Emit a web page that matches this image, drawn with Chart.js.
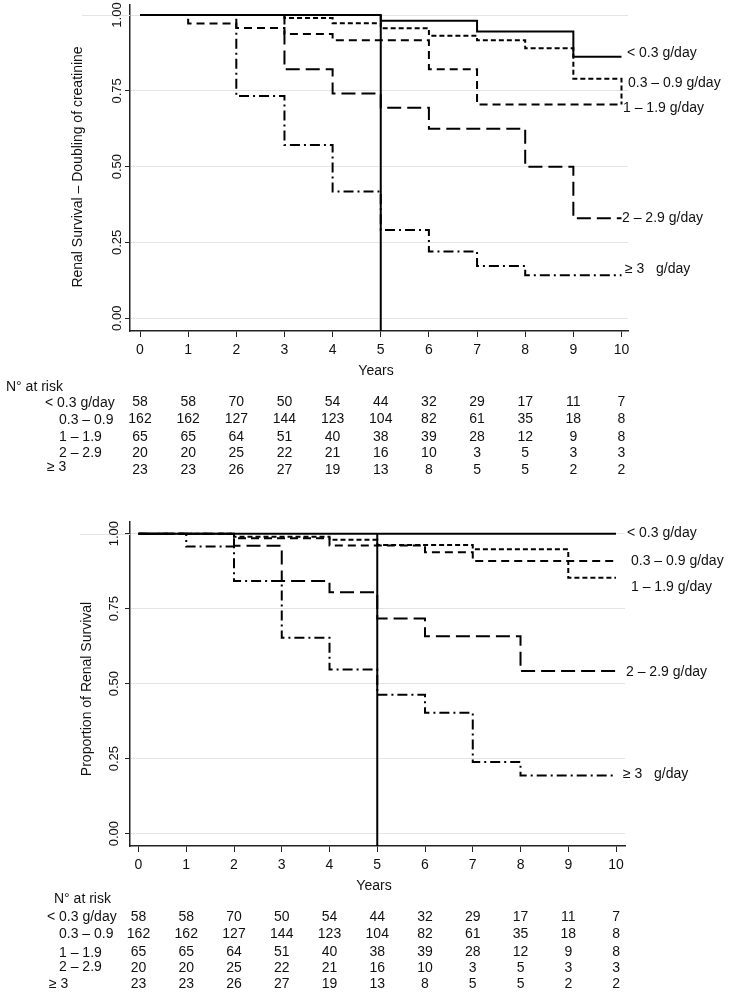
<!DOCTYPE html>
<html>
<head>
<meta charset="utf-8">
<script src="https://cdn.jsdelivr.net/npm/chart.js@4"></script>
<style>
    html, body { margin: 0; padding: 0; background: #fff; }
    body { width: 733px; height: 993px; position: relative; overflow: hidden; }
    canvas { position: absolute; left: 0; }
    #top-chart { top: 0; }
    #bottom-chart { top: 480px; }
</style>
</head>
<body>
<canvas id="top-chart" width="733" height="480"></canvas>
<canvas id="bottom-chart" width="733" height="513"></canvas>
<script>
// Shared axes / labels
const years = [0, 1, 2, 3, 4, 5, 6, 7, 8, 9, 10];
const yTicks = [0, 0.25, 0.5, 0.75, 1];
const groupLabels = ['< 0.3 g/day', '0.3 \u2013 0.9 g/day', '1 \u2013 1.9 g/day', '2 \u2013 2.9 g/day', '\u2265 3   g/day'];
const riskLabels = ['< 0.3 g/day', '0.3 \u2013 0.9', '1 \u2013 1.9', '2 \u2013 2.9', '\u2265 3'];
const cutoffYear = 5;

// Top: renal survival - doubling of creatinine (level from each year on)
const dblLt03 = [1, 1, 1, 1, 1, 0.981, 0.981, 0.946, 0.946, 0.862, 0.862];
const dbl03to09 = [1, 1, 1, 0.99, 0.973, 0.956, 0.932, 0.917, 0.89, 0.79, 0.705];
const dbl1to19 = [1, 0.972, 0.957, 0.937, 0.917, 0.917, 0.821, 0.705, 0.705, 0.705, 0.705];
const dbl2to29 = [1, 1, 1, 0.821, 0.741, 0.694, 0.625, 0.625, 0.5, 0.33, 0.33];
const dblGe3 = [1, 1, 0.733, 0.571, 0.418, 0.291, 0.22, 0.172, 0.142, 0.142, 0.142];

// Bottom: proportion of renal survival
const survLt03 = [1, 1, 1, 1, 1, 1, 1, 1, 1, 1, 1];
const surv03to09 = [1, 1, 0.99, 0.99, 0.98, 0.962, 0.962, 0.948, 0.948, 0.853, 0.853];
const surv1to19 = [1, 1, 0.985, 0.985, 0.961, 0.961, 0.938, 0.909, 0.909, 0.909, 0.909];
const surv2to29 = [1, 1, 0.96, 0.842, 0.805, 0.717, 0.658, 0.658, 0.542, 0.542, 0.542];
const survGe3 = [1, 0.957, 0.842, 0.653, 0.547, 0.463, 0.403, 0.239, 0.194, 0.194, 0.194];

// Number at risk (same table under both plots)
const riskLt03 = [58, 58, 70, 50, 54, 44, 32, 29, 17, 11, 7];
const risk03to09 = [162, 162, 127, 144, 123, 104, 82, 61, 35, 18, 8];
const risk1to19 = [65, 65, 64, 51, 40, 38, 39, 28, 12, 9, 8];
const risk2to29 = [20, 20, 25, 22, 21, 16, 10, 3, 5, 3, 3];
const riskGe3 = [23, 23, 26, 27, 19, 13, 8, 5, 5, 2, 2];

const riskRows = [riskLt03, risk03to09, risk1to19, risk2to29, riskGe3];
const dashes = [[], [5, 3], [8, 5], [14, 6], [10, 4, 2, 4]];
const FONT = '"Liberation Sans", Arial, Helvetica, sans-serif';
const INK = '#111';

// Text drawn around the plot: rotated y labels, group labels, risk table
const kmText = {
    id: 'kmText',
    beforeDatasetsDraw(chart, args, o) {
        const { ctx } = chart;
        const y = chart.scales.y;
        // the 1.00 grid line reaches past the axis in the original
        ctx.save();
        ctx.strokeStyle = '#e4e4e4';
        ctx.lineWidth = 1;
        ctx.beginPath();
        ctx.moveTo(o.gridLeft, Math.round(y.getPixelForValue(1)) + 0.5);
        ctx.lineTo(chart.chartArea.left, Math.round(y.getPixelForValue(1)) + 0.5);
        ctx.stroke();
        ctx.restore();
    },
    afterDraw(chart, args, o) {
        const { ctx } = chart;
        const x = chart.scales.x;
        const y = chart.scales.y;
        ctx.save();
        ctx.fillStyle = INK;
        ctx.textBaseline = 'middle';

        // y tick labels, rotated
        ctx.font = '13px ' + FONT;
        ctx.textAlign = 'center';
        yTicks.forEach(v => {
            ctx.save();
            ctx.translate(o.yLabelX, y.getPixelForValue(v));
            ctx.rotate(-Math.PI / 2);
            ctx.fillText(v.toFixed(2), 0, 0);
            ctx.restore();
        });

        // y title
        ctx.font = '14px ' + FONT;
        ctx.save();
        ctx.translate(o.yTitle.x, o.yTitle.y);
        ctx.rotate(-Math.PI / 2);
        ctx.fillText(o.yTitle.text, 0, 0);
        ctx.restore();

        // x title
        ctx.fillText('Years', o.xTitle.x, o.xTitle.y);

        // group labels at the right end of the curves
        ctx.textAlign = 'left';
        groupLabels.forEach((label, i) => {
            ctx.fillText(label, o.endLabels[i].x, o.endLabels[i].y);
        });

        // number at risk table
        ctx.fillText('N\u00b0 at risk', o.atRisk.x, o.atRisk.y);
        riskLabels.forEach((label, i) => {
            ctx.textAlign = 'left';
            ctx.fillText(label, o.rowLabelX[i], o.rowLabelY[i]);
            ctx.textAlign = 'center';
            riskRows[i].forEach((n, j) => {
                ctx.fillText(String(n), x.getPixelForValue(years[j]), o.rowY[i]);
            });
        });
        ctx.restore();
    }
};

function buildChart(canvasId, series, layout, text) {
    const datasets = series.map((vals, i) => ({
        data: years.map((t, j) => ({ x: t, y: vals[j] })),
        borderColor: '#000',
        borderWidth: 2,
        borderDash: dashes[i],
        borderCapStyle: 'butt',
        stepped: true,
        pointRadius: 0,
        fill: false
    }));
    // vertical reference line at 5 years
    datasets.push({
        data: [{ x: cutoffYear, y: 1 }, { x: cutoffYear, y: layout.yMin }],
        borderColor: '#000',
        borderWidth: 2,
        pointRadius: 0,
        fill: false
    });

    return new Chart(document.getElementById(canvasId), {
        type: 'line',
        data: { datasets: datasets },
        options: {
            responsive: false,
            animation: false,
            events: [],
            layout: { padding: { top: layout.padTop, right: layout.padRight, left: 0, bottom: 0 } },
            plugins: {
                legend: { display: false },
                tooltip: { enabled: false },
                kmText: text
            },
            scales: {
                x: {
                    type: 'linear',
                    min: layout.xMin,
                    max: layout.xMax,
                    afterBuildTicks: s => { s.ticks = years.map(v => ({ value: v })); },
                    afterFit: s => { s.height = layout.xHeight; },
                    grid: { drawOnChartArea: false, drawTicks: true, tickLength: 6, tickColor: '#222', tickWidth: 1 },
                    border: { display: true, color: '#222', width: 1.5 },
                    ticks: { color: INK, font: { size: 14, family: FONT }, padding: 5, maxRotation: 0, autoSkip: false }
                },
                y: {
                    type: 'linear',
                    min: layout.yMin,
                    max: layout.yMax,
                    afterBuildTicks: s => { s.ticks = yTicks.map(v => ({ value: v })); },
                    afterFit: s => { s.width = 130; },
                    grid: { color: '#e4e4e4', lineWidth: 1, drawTicks: true, tickLength: 5, tickColor: '#222', tickWidth: 1 },
                    border: { display: true, color: '#222', width: 1.5 },
                    ticks: { display: false }
                }
            }
        },
        plugins: [kmText]
    });
}

buildChart('top-chart', [dblLt03, dbl03to09, dbl1to19, dbl2to29, dblGe3], {
    padTop: 5, padRight: 105, xHeight: 149,
    xMin: -0.208, xMax: 10.135, yMin: -0.042, yMax: 1.033
}, {
    gridLeft: 82,
    yLabelX: 117.5,
    yTitle: { x: 78, y: 167, text: 'Renal Survival \u2013 Doubling of creatinine' },
    xTitle: { x: 376, y: 371 },
    atRisk: { x: 6, y: 387 },
    rowY: [402, 419, 437, 453, 470],
    rowLabelX: [45, 59, 59, 59, 47],
    rowLabelY: [403, 420, 437, 453, 467],
    endLabels: [{ x: 627, y: 53 }, { x: 628, y: 83 }, { x: 623, y: 108 }, { x: 622, y: 218 }, { x: 625, y: 269 }]
});

buildChart('bottom-chart', [survLt03, surv03to09, surv1to19, surv2to29, survGe3], {
    padTop: 42, padRight: 108, xHeight: 147,
    xMin: -0.178, xMax: 10.188, yMin: -0.041, yMax: 1.039
}, {
    gridLeft: 80,
    yLabelX: 114,
    yTitle: { x: 87, y: 209, text: 'Proportion of Renal Survival' },
    xTitle: { x: 374, y: 406 },
    atRisk: { x: 54, y: 419 },
    rowY: [437, 454, 472, 488, 504],
    rowLabelX: [47, 59, 59, 59, 49],
    rowLabelY: [437, 454, 473, 487, 504],
    endLabels: [{ x: 627, y: 53 }, { x: 631, y: 81 }, { x: 631, y: 107 }, { x: 626, y: 192 }, { x: 623, y: 294 }]
});
</script>
</body>
</html>
